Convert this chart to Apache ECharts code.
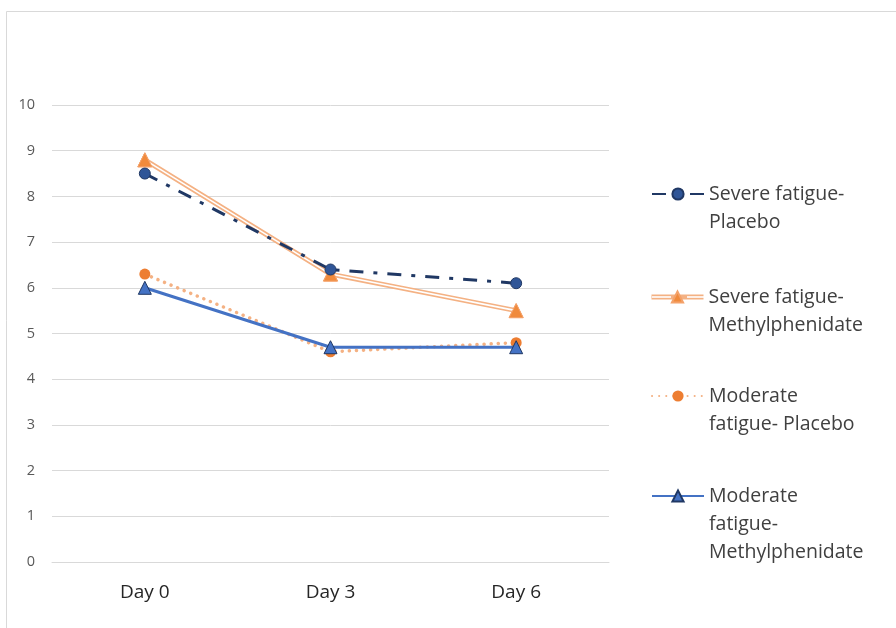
<!DOCTYPE html>
<html><head><meta charset="utf-8">
<script src="https://cdn.jsdelivr.net/npm/echarts@6/dist/echarts.min.js"></script>
<style>html,body{margin:0;padding:0;background:#fff}#c{width:896px;height:628px}</style>
</head><body><div id="c"></div>
<script>
const categories = ['Day 0', 'Day 3', 'Day 6'];
const yTicks = [0, 10, 1];
const severePlacebo = [8.5, 6.4, 6.1];
const severeMPH = [8.8, 6.3, 5.5];
const moderatePlacebo = [6.3, 4.6, 4.8];
const moderateMPH = [6.0, 4.7, 4.7];
const names = ['Severe fatigue-Placebo', 'Severe fatigue-Methylphenidate', 'Moderate fatigue- Placebo', 'Moderate fatigue-Methylphenidate'];
const labelLines = {
  'Severe fatigue-Placebo': ['Severe fatigue-', 'Placebo'],
  'Severe fatigue-Methylphenidate': ['Severe fatigue-', 'Methylphenidate'],
  'Moderate fatigue- Placebo': ['Moderate', 'fatigue- Placebo'],
  'Moderate fatigue-Methylphenidate': ['Moderate', 'fatigue-', 'Methylphenidate']
};
const FONT = '"Open Sans"';
const LH = 28;
function lg(name, iconY, left, extra) {
  const n = labelLines[name].length;
  const total = 2 * n - 1;
  return {
    data: [Object.assign({ name: name }, extra || {})], orient: 'vertical', left: left, top: iconY - total * LH / 2, padding: 0,
    itemWidth: 52, itemHeight: 14, selectedMode: false,
    formatter: nm => {
      const l = labelLines[nm];
      return new Array(l.length - 1).fill(' ').concat(l).join('\n');
    },
    textStyle: { fontFamily: FONT, fontSize: 19.5, color: '#404040', lineHeight: LH }
  };
}
const chart = echarts.init(document.getElementById('c'));
chart.setOption({
  animation: false,
  backgroundColor: '#fff',
  graphic: [
    { type: 'rect', shape: { x: 6.5, y: 11.5, width: 900, height: 640 }, style: { fill: 'none', stroke: '#d9d9d9', lineWidth: 1 }, silent: true },
    { type: 'line', shape: { x1: 652, y1: 297, x2: 671, y2: 297 }, style: { stroke: '#fff', lineWidth: 1.6 }, z: 100, silent: true },
    { type: 'line', shape: { x1: 687, y1: 297, x2: 704, y2: 297 }, style: { stroke: '#fff', lineWidth: 1.6 }, z: 100, silent: true }
  ],
  grid: { left: 52, right: 287, top: 105, bottom: 66 },
  legend: [lg(names[0], 194, 651), lg(names[1], 297, 649, { lineStyle: { width: 5 } }), lg(names[2], 396, 651), lg(names[3], 496, 651)],
  xAxis: {
    type: 'category', data: categories, boundaryGap: true,
    axisLine: { lineStyle: { color: '#d9d9d9', width: 1 } },
    axisTick: { show: false },
    axisLabel: { fontFamily: FONT, fontSize: 19, color: '#262626', margin: 21 }
  },
  yAxis: {
    type: 'value', min: yTicks[0], max: yTicks[1], interval: yTicks[2],
    axisLine: { show: false }, axisTick: { show: false },
    splitLine: { lineStyle: { color: '#d9d9d9', width: 1 } },
    axisLabel: { fontFamily: FONT, fontSize: 14.5, color: '#595959', margin: 17 }
  },
  series: [
    {
      name: names[0], type: 'line', data: severePlacebo, z: 5,
      symbol: 'circle', symbolSize: 11,
      lineStyle: { color: '#203864', width: 3, type: [14, 10, 4, 10] },
      itemStyle: { color: '#2f5597', borderColor: '#203864', borderWidth: 1 }
    },
    {
      name: names[1], type: 'line', data: severeMPH, z: 2,
      symbol: 'triangle', symbolSize: 14,
      lineStyle: { color: '#f4b183', width: 5 },
      itemStyle: { color: '#f08a3c', borderColor: '#f4a26a', borderWidth: 1 }
    },
    {
      type: 'line', data: severeMPH, z: 3, silent: true, symbol: 'none',
      lineStyle: { color: '#ffffff', width: 1.6 }
    },
    {
      type: 'line', data: severeMPH, z: 4, silent: true,
      symbol: 'triangle', symbolSize: 14, showSymbol: true,
      lineStyle: { opacity: 0 },
      itemStyle: { color: '#f08a3c', borderColor: '#f4a26a', borderWidth: 1 }
    },
    {
      name: names[2], type: 'line', data: moderatePlacebo, z: 2,
      symbol: 'circle', symbolSize: 11,
      lineStyle: { color: '#f4b183', width: 3.5, type: [0.1, 7], cap: 'round' },
      itemStyle: { color: '#ed7d31' }
    },
    {
      name: names[3], type: 'line', data: moderateMPH, z: 3,
      symbol: 'triangle', symbolSize: 13,
      lineStyle: { color: '#4472c4', width: 3 },
      itemStyle: { color: '#4472c4', borderColor: '#203864', borderWidth: 1 }
    }
  ]
});
</script></body></html>
